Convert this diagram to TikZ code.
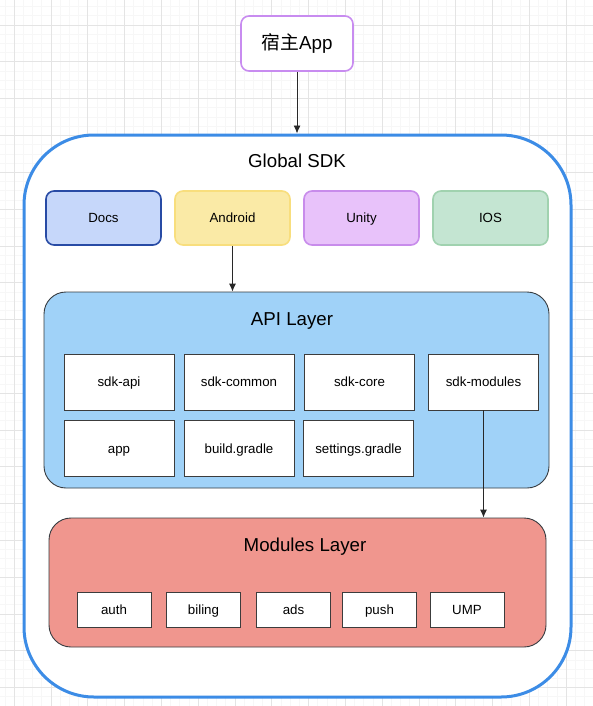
\documentclass[tikz,border=0pt]{standalone}
\usepackage{fontspec}
\setmainfont{Liberation Sans}
\newfontfamily\cjk{Noto Sans CJK SC}
\usetikzlibrary{arrows.meta}

\begin{document}
\begin{tikzpicture}[x=1pt,y=-1pt,font=\fontsize{13.3}{16}\selectfont,
  layer/.style={draw=#1,rounded corners=8pt,line width=1.6pt,minimum width=115pt,minimum height=54pt,inner sep=0pt,
    text height=2.1ex,text depth=0.3ex},
  part/.style={draw=partgray,fill=white,line width=0.8pt,minimum width=110pt,minimum height=56pt,inner sep=0pt,
    text height=2.1ex,text depth=0.3ex},
  leaf/.style={part,minimum width=74pt,minimum height=35pt},
  title/.style={font=\fontsize{18.7}{22}\selectfont,text height=2.1ex,text depth=0.3ex},
  link/.style={draw=linkgray,line width=0.9pt,-{Latex[length=8pt,width=7pt]}}]
  \definecolor{gridminor}{RGB}{247,247,247}
  \definecolor{gridmajor}{RGB}{228,228,228}
  \definecolor{sdkblue}{RGB}{60,140,230}
  \definecolor{hostpurple}{RGB}{200,140,240}
  \definecolor{docsfill}{RGB}{198,215,250}
  \definecolor{docsline}{RGB}{40,75,165}
  \definecolor{androidfill}{RGB}{250,234,166}
  \definecolor{androidline}{RGB}{248,222,125}
  \definecolor{unityfill}{RGB}{232,194,250}
  \definecolor{unityline}{RGB}{200,140,235}
  \definecolor{iosfill}{RGB}{196,229,210}
  \definecolor{iosline}{RGB}{160,210,175}
  \definecolor{apifill}{RGB}{160,210,248}
  \definecolor{modfill}{RGB}{240,150,142}
  \definecolor{layerline}{RGB}{55,60,65}
  \definecolor{partgray}{RGB}{60,60,60}
  \definecolor{linkgray}{RGB}{40,40,40}

  \useasboundingbox (0,0) rectangle (593,706);

  % background grid
  \foreach \i in {0,...,64} {\draw[gridminor,line width=0.6pt] ({4.8+\i*9.2},0) -- ++(0,706);}
  \foreach \i in {0,...,76} {\draw[gridminor,line width=0.6pt] (0,{6.6+\i*9.2}) -- ++(593,0);}
  \foreach \i in {0,...,15} {\draw[gridmajor,line width=0.6pt] ({14+\i*36.8},0) -- ++(0,706);}
  \foreach \i in {0,...,18} {\draw[gridmajor,line width=0.6pt] (0,{25+\i*36.8}) -- ++(593,0);}

  \node[draw=hostpurple,fill=white,rounded corners=8pt,line width=1.6pt,minimum width=112pt,minimum height=55pt,
    font=\fontsize{18.8}{22}\selectfont,text height=2.5ex,text depth=0.2ex] (host) at (297,43.5) {{\cjk 宿主}App};

  \node[draw=sdkblue,fill=white,rounded corners=70pt,line width=3pt,minimum width=547pt,minimum height=562pt] (outer) at (297.5,416) {};
  \node[title] (sdk) at (297,163) {Global SDK};

  \node[layer=docsline,fill=docsfill] (docs) at (103.5,218) {Docs};
  \node[layer=androidline,fill=androidfill] (android) at (232.5,218) {Android};
  \node[layer=unityline,fill=unityfill] (unity) at (361.5,218) {Unity};
  \node[layer=iosline,fill=iosfill] (ios) at (490.5,218) {IOS};

  % API layer
  \node[draw=layerline,fill=apifill,rounded corners=22pt,line width=0.9pt,minimum width=505pt,minimum height=196pt] (api) at (296.5,390) {};
  \node[title] (apititle) at (292,321) {API Layer};
  \foreach \n/\x/\lab in {sdkapi/119/sdk-api,sdkcommon/239/sdk-common,sdkcore/359.5/sdk-core,sdkmodules/483.5/sdk-modules}
    {\node[part] (\n) at (\x,382) {\lab};}
  \foreach \n/\x/\lab in {app/119/app,build/239/build.gradle,settings/358.5/settings.gradle}
    {\node[part] (\n) at (\x,448.5) {\lab};}

  % Modules layer
  \node[draw=layerline,fill=modfill,rounded corners=22pt,line width=0.9pt,minimum width=497pt,minimum height=129pt] (modules) at (297.5,582.5) {};
  \node[title] (modtitle) at (305,547) {Modules Layer};
  \foreach \n/\x/\lab in {auth/114/auth,biling/203.5/biling,ads/293.5/ads,push/379.5/push,ump/467/UMP}
    {\node[leaf] (\n) at (\x,609.5) {\lab};}

  \draw[link] (host) -- (host.south |- outer.north);
  \draw[link] (android) -- (android.south |- api.north);
  \draw[link] (sdkmodules) -- (sdkmodules.south |- modules.north);
\end{tikzpicture}
\end{document}
